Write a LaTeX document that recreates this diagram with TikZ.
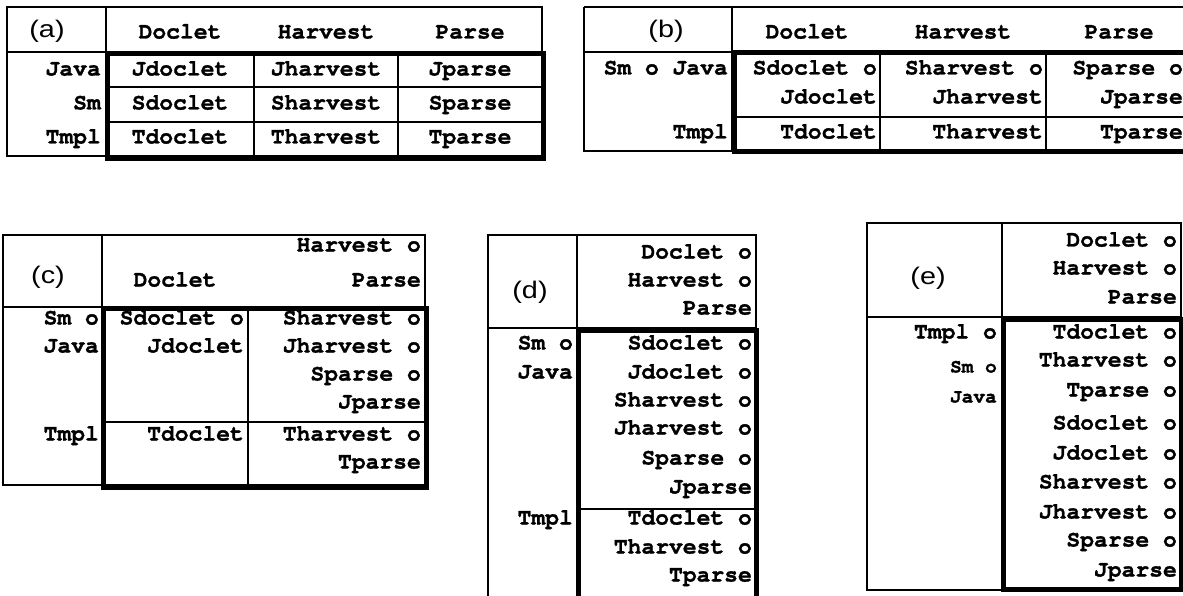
\documentclass[tikz,border=0pt]{standalone}
\usepackage{fontspec}
\usepackage{graphicx}
\newfontfamily\sansf{Liberation Sans}
\newfontfamily\cur{TeX Gyre Cursor}[BoldFeatures={FakeBold=1.2}]
\newcommand{\tagtxt}[1]{\scalebox{1.2}[1]{#1}}
\begin{document}
\begin{tikzpicture}[x=1pt,y=-1pt,
  tl/.style={line width=1.4pt},
  bl/.style={line width=5pt},
  mc/.style={font=\cur\bfseries\fontsize{23}{28}\selectfont, inner sep=0pt, text height=13pt, text depth=0pt},
  me/.style={mc, anchor=east},
  mse/.style={me, font=\cur\bfseries\fontsize{19.5}{24}\selectfont, text height=11pt},
  lab/.style={font=\sansf\fontsize{24}{28}\selectfont, inner sep=0pt}]
\useasboundingbox (0,0) rectangle (1183,596);

% ---------------- (a)
\draw[tl] (7,7) rectangle (542,156);
\draw[tl] (106,7) -- (106,156);
\draw[tl] (7,52) -- (542,52);
\draw[tl] (107,87) -- (543,87) (107,122) -- (543,122) (254,54) -- (254,159) (398,54) -- (398,159);
\draw[bl] (107,54) rectangle (543,159);
\node[lab] (a-tag) at (47,31) {\tagtxt{(a)}};
\node[mc] (a-h1) at (180,32) {Doclet};
\node[mc] (a-h2) at (326,32) {Harvest};
\node[mc] (a-h3) at (470,32) {Parse};
\node[me] (a-r1) at (101,69) {Java};
\node[me] (a-r2) at (101,103) {Sm};
\node[me] (a-r3) at (101,137) {Tmpl};
\node[mc] (a-11) at (180,69) {Jdoclet};
\node[mc] (a-12) at (326,69) {Jharvest};
\node[mc] (a-13) at (470,69) {Jparse};
\node[mc] (a-21) at (180,103) {Sdoclet};
\node[mc] (a-22) at (326,103) {Sharvest};
\node[mc] (a-23) at (470,103) {Sparse};
\node[mc] (a-31) at (180,137) {Tdoclet};
\node[mc] (a-32) at (326,137) {Tharvest};
\node[mc] (a-33) at (470,137) {Tparse};

% ---------------- (b)
\draw[tl] (584,7) -- (1196,7) (584,7) -- (584,151) -- (1196,151);
\draw[tl] (732,7) -- (732,151);
\draw[tl] (584,52) -- (1196,52);
\draw[tl] (734,117) -- (1194,117) (880,53) -- (880,152) (1046,53) -- (1046,152);
\draw[bl] (734,53) rectangle (1194,152);
\node[lab] (b-tag) at (666,31) {\tagtxt{(b)}};
\node[mc] (b-h1) at (807,32) {Doclet};
\node[mc] (b-h2) at (963,32) {Harvest};
\node[mc] (b-h3) at (1119,32) {Parse};
\node[me] (b-r1) at (728,68) {Sm o Java};
\node[me] (b-r2) at (728,132) {Tmpl};
\node[me] (b-11a) at (877,68) {Sdoclet o};
\node[me] (b-11b) at (877,97) {Jdoclet};
\node[me] (b-12a) at (1043,68) {Sharvest o};
\node[me] (b-12b) at (1043,97) {Jharvest};
\node[me] (b-13a) at (1183,68) {Sparse o};
\node[me] (b-13b) at (1183,97) {Jparse};
\node[me] (b-21) at (877,132) {Tdoclet};
\node[me] (b-22) at (1043,132) {Tharvest};
\node[me] (b-23) at (1183,132) {Tparse};

% ---------------- (c)
\draw[tl] (3,235) rectangle (425,485);
\draw[tl] (102,235) -- (102,485);
\draw[tl] (3,307) -- (425,307);
\draw[tl] (248,308) -- (248,487) (103,422) -- (426,422);
\draw[bl] (103,308) rectangle (426,487);
\node[lab] (c-tag) at (48,277) {\tagtxt{(c)}};
\node[mc] (c-h1) at (175,280) {Doclet};
\node[me] (c-h2a) at (421,245) {Harvest o};
\node[me] (c-h2b) at (421,280) {Parse};
\node[me] (c-r1a) at (99,318) {Sm o};
\node[me] (c-r1b) at (99,346) {Java};
\node[me] (c-r2) at (99,434) {Tmpl};
\node[me] (c-11a) at (244,318) {Sdoclet o};
\node[me] (c-11b) at (244,346) {Jdoclet};
\node[me] (c-12a) at (421,318) {Sharvest o};
\node[me] (c-12b) at (421,346) {Jharvest o};
\node[me] (c-12c) at (421,374) {Sparse o};
\node[me] (c-12d) at (421,402) {Jparse};
\node[me] (c-21) at (244,434) {Tdoclet};
\node[me] (c-22a) at (421,434) {Tharvest o};
\node[me] (c-22b) at (421,462) {Tparse};

% ---------------- (d)
\draw[tl] (488,602) -- (488,235) -- (756,235) -- (756,328);
\draw[tl] (577,235) -- (577,602);
\draw[tl] (488,328) -- (756,328);
\draw[tl] (578,509) -- (756,509);
\draw[bl] (578,602) -- (578,330) -- (756,330) -- (756,602);
\node[lab] (d-tag) at (530,292) {\tagtxt{(d)}};
\node[me] (d-h1) at (752,252) {Doclet o};
\node[me] (d-h2) at (752,280) {Harvest o};
\node[me] (d-h3) at (752,308) {Parse};
\node[me] (d-r1a) at (573,343) {Sm o};
\node[me] (d-r1b) at (573,372) {Java};
\node[me] (d-r2) at (573,518) {Tmpl};
\node[me] (d-1a) at (752,343) {Sdoclet o};
\node[me] (d-1b) at (752,372) {Jdoclet o};
\node[me] (d-1c) at (752,400) {Sharvest o};
\node[me] (d-1d) at (752,428) {Jharvest o};
\node[me] (d-1e) at (752,458) {Sparse o};
\node[me] (d-1f) at (752,487) {Jparse};
\node[me] (d-2a) at (752,518) {Tdoclet o};
\node[me] (d-2b) at (752,547) {Tharvest o};
\node[me] (d-2c) at (752,575) {Tparse};

% ---------------- (e)
\draw[tl] (867,223) rectangle (1181,590);
\draw[tl] (1002,223) -- (1002,590);
\draw[tl] (867,317) -- (1181,317);
\draw[bl] (1003,319) rectangle (1181,589);
\node[lab] (e-tag) at (928,278) {\tagtxt{(e)}};
\node[me] (e-h1) at (1177,240) {Doclet o};
\node[me] (e-h2) at (1177,268) {Harvest o};
\node[me] (e-h3) at (1177,297) {Parse};
\node[me] (e-r1) at (997,332) {Tmpl o};
\node[mse] (e-r2) at (997,367) {Sm o};
\node[mse] (e-r3) at (997,397) {Java};
\node[me] (e-1) at (1177,332) {Tdoclet o};
\node[me] (e-2) at (1177,360) {Tharvest o};
\node[me] (e-3) at (1177,390) {Tparse o};
\node[me] (e-4) at (1177,423) {Sdoclet o};
\node[me] (e-5) at (1177,453) {Jdoclet o};
\node[me] (e-6) at (1177,482) {Sharvest o};
\node[me] (e-7) at (1177,512) {Jharvest o};
\node[me] (e-8) at (1177,540) {Sparse o};
\node[me] (e-9) at (1177,570) {Jparse};
\end{tikzpicture}
\end{document}
